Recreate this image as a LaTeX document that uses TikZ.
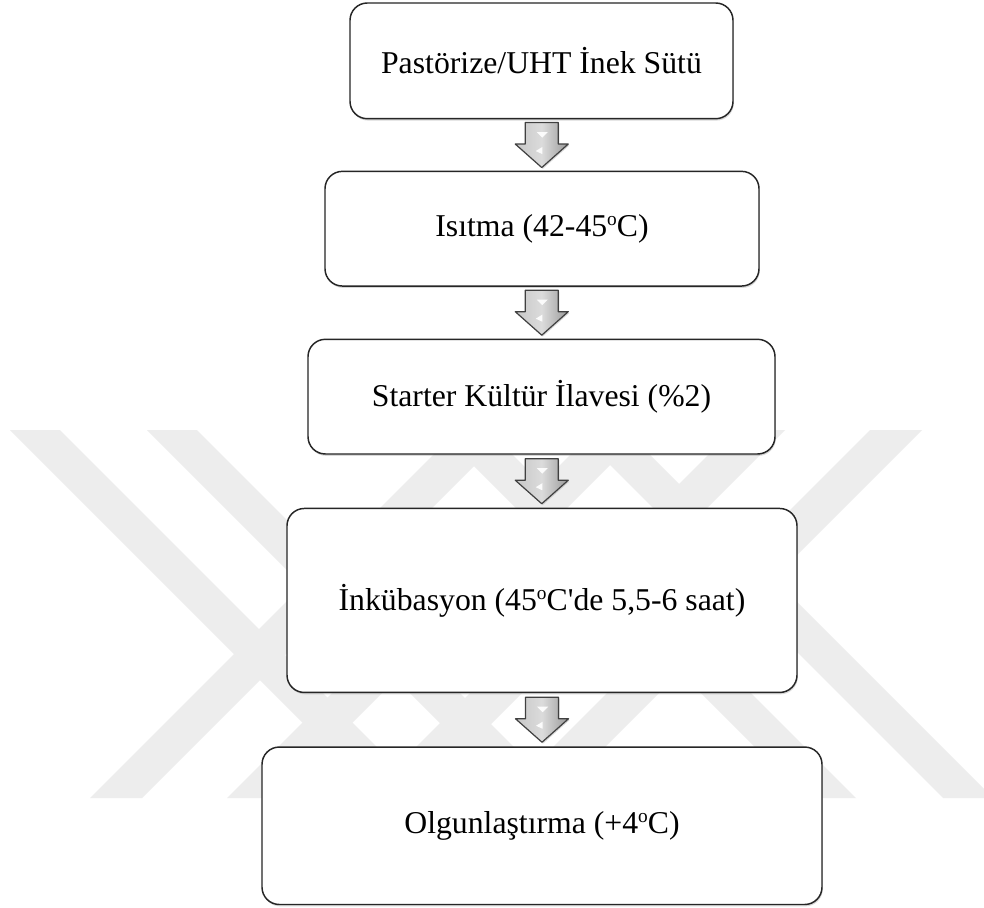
\documentclass[tikz,border=0pt]{standalone}
\usepackage{fontspec}
\setmainfont{Liberation Serif}
\usetikzlibrary{calc,shadows}
\tikzset{
  box/.style={draw=black!85, line width=1.1pt, fill=white, rounded corners=13pt,
    align=center, font=\fontsize{23.8pt}{28pt}\selectfont,
    drop shadow={opacity=0.3, shadow xshift=0.6pt, shadow yshift=-1.4pt}},
  wm/.style={fill=black!7, draw=none},
  blockarrow/.style={draw=black!75, line width=0.9pt, line join=round,
    left color=black!22, right color=black!40, middle color=black!14,
    drop shadow={opacity=0.3, shadow xshift=0.8pt, shadow yshift=-1pt}},
  gloss/.style={fill=white, draw=none, opacity=0.9}
}
\newcommand{\degsup}{\raisebox{8pt}{\fontsize{14.5pt}{14.5pt}\selectfont o}}
\newcommand{\flowarrow}[2]{%
  \coordinate (#1#2m) at ($(#1.south)!0.5!(#2.north)$);
  \draw[blockarrow] ($(#1#2m)+(-16.5,-22.5)$) -- ($(#1#2m)+(16.5,-22.5)$)
    -- ($(#1#2m)+(16.5,-1)$) -- ($(#1#2m)+(26.5,-1)$) -- ($(#1#2m)+(0,22.5)$)
    -- ($(#1#2m)+(-26.5,-1)$) -- ($(#1#2m)+(-16.5,-1)$) -- cycle;
  \fill[gloss] ($(#1#2m)+(-5,-13)$) -- ($(#1#2m)+(6,-13)$) -- ($(#1#2m)+(0.5,-7.5)$) -- cycle;
  \fill[gloss] ($(#1#2m)+(0.5,2)$) -- ($(#1#2m)+(0.5,9)$) -- ($(#1#2m)+(-6,6)$) -- cycle;
}
% band helpers (pixel units, y downwards): back band y-x in [c1,c2], fwd band y+x in [c1,c2]
\newcommand{\backband}[2]{\fill[wm] ({430-#2},430) -- ({430-#1},430) -- ({798-#1},798) -- ({798-#2},798) -- cycle;}
\newcommand{\fwdband}[2]{\fill[wm] ({#1-430},430) -- ({#2-430},430) -- ({#2-798},798) -- ({#1-798},798) -- cycle;}
\begin{document}
\begin{tikzpicture}[x=0.75pt, y=-0.75pt]
  \useasboundingbox (0,0) rectangle (984,907);
  \fill[white] (0,0) rectangle (984,907);
  % watermark
  \begin{scope}
    \clip (0,430) rectangle (984,798);
    \backband{233}{283}
    \backband{370}{420}
    \fwdband{888}{940}
    \fwdband{1025}{1075}
    \backband{-195}{-145}
    \backband{-58}{-8}
    \fwdband{1163}{1215}
    \fwdband{1300}{1352}
  \end{scope}
  % boxes
  \node[box, minimum width=287.25pt, minimum height=86.8pt] (b1) at (541.5,60.85) {Pastörize/UHT İnek Sütü};
  \node[box, minimum width=325.5pt, minimum height=86pt] (b2) at (542,228.7) {Isıtma (42-45\degsup C)};
  \node[box, minimum width=350.25pt, minimum height=86pt] (b3) at (541.5,396.65) {Starter Kültür İlavesi (\%2)};
  \node[box, minimum width=382.5pt, minimum height=138pt] (b4) at (542,600.45) {İnkübasyon (45\degsup C\textquotesingle de 5,5-6 saat)};
  \node[box, minimum width=420pt, minimum height=118.1pt] (b5) at (542,825.75) {Olgunlaştırma (+4\degsup C)};
  % arrows
  \flowarrow{b1}{b2}
  \flowarrow{b2}{b3}
  \flowarrow{b3}{b4}
  \flowarrow{b4}{b5}
\end{tikzpicture}
\end{document}
